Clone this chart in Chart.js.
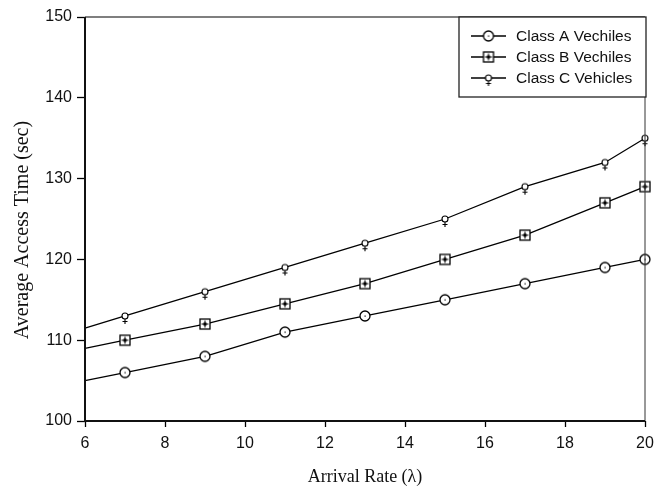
<!DOCTYPE html>
<html>
<head>
<meta charset="utf-8">
<script src="https://cdn.jsdelivr.net/npm/chart.js@4.4.1/dist/chart.umd.min.js"></script>
<style>
  html, body { margin: 0; padding: 0; background: #fff; }
  #wrap { width: 658px; height: 492px; }
</style>
</head>
<body>
<div id="wrap"><canvas id="accessChart"></canvas></div>
<script>
// arrival rate (lambda) values
var arrivalRate = [6, 7, 9, 11, 13, 15, 17, 19, 20];
var classA = [105, 106, 108, 111, 113, 115, 117, 119, 120];
var classB = [109, 110, 112, 114.5, 117, 120, 123, 127, 129];
var classC = [111.5, 113, 116, 119, 122, 125, 129, 132, 135];
var seriesNames = ['Class A Vechiles', 'Class B Vechiles', 'Class C Vehicles'];
var xTicks = [6, 8, 10, 12, 14, 16, 18, 20];
var yTicks = [100, 110, 120, 130, 140, 150];
var yTitle = 'Average Access Time (sec)';

function makeMarker(kind) {
    var c = document.createElement('canvas');
    var g = c.getContext('2d');
    if (kind === 'A') {
        c.width = 14; c.height = 14;
        g.fillStyle = '#fff';
        g.strokeStyle = '#000';
        g.lineWidth = 1.3;
        g.beginPath(); g.arc(7, 7, 5, 0, Math.PI * 2); g.fill(); g.stroke();
        g.fillStyle = '#000';
        g.fillRect(6.5, 6.5, 1.2, 1.2);
    } else if (kind === 'B') {
        c.width = 14; c.height = 14;
        g.fillStyle = '#fff';
        g.strokeStyle = '#000';
        g.lineWidth = 1.3;
        g.fillRect(2, 2, 10, 10);
        g.strokeRect(2, 2, 10, 10);
        g.fillStyle = '#000';
        g.fillRect(5.5, 5.5, 3, 3);
        g.fillRect(6.5, 3.5, 1, 7);
        g.fillRect(3.5, 6.5, 7, 1);
    } else {
        c.width = 12; c.height = 22;
        g.fillStyle = '#fff';
        g.strokeStyle = '#000';
        g.lineWidth = 1.1;
        g.beginPath(); g.arc(6, 11, 3, 0, Math.PI * 2); g.fill(); g.stroke();
        g.beginPath();
        g.moveTo(6, 14); g.lineTo(6, 19);
        g.moveTo(3.5, 16.5); g.lineTo(8.5, 16.5);
        g.stroke();
    }
    return c;
}

var markers = [makeMarker('A'), makeMarker('B'), makeMarker('C')];

function toPoints(ys) {
    return arrivalRate.map(function (x, i) { return { x: x, y: ys[i] }; });
}

function buildSet(label, ys, marker) {
    return {
        label: label,
        data: toPoints(ys),
        borderColor: '#000',
        borderWidth: 1.3,
        backgroundColor: '#fff',
        pointStyle: marker,
        // first point (lambda = 6) is drawn without a symbol
        pointRadius: ys.map(function (v, i) { return i === 0 ? 0 : 5; }),
        tension: 0,
        clip: false
    };
}

var framePlugin = {
    id: 'frame',
    afterDraw: function (chart) {
        var ctx = chart.ctx, a = chart.chartArea;
        ctx.save();
        ctx.strokeStyle = '#555';
        ctx.lineWidth = 1.5;
        ctx.beginPath();
        ctx.moveTo(a.left, a.top); ctx.lineTo(a.right, a.top);
        ctx.stroke();
        ctx.lineWidth = 1;
        ctx.strokeStyle = '#333';
        ctx.beginPath();
        ctx.moveTo(a.right, a.top); ctx.lineTo(a.right, a.bottom);
        ctx.stroke();
        ctx.strokeStyle = '#111';
        ctx.lineWidth = 2;
        ctx.beginPath();
        ctx.moveTo(a.left, a.top); ctx.lineTo(a.left, a.bottom + 1);
        ctx.moveTo(a.left - 1, a.bottom); ctx.lineTo(a.right, a.bottom);
        ctx.stroke();

        // y axis title, placed a bit below the plot centre as in the original
        ctx.save();
        ctx.translate(23, 230);
        ctx.rotate(-Math.PI / 2);
        ctx.font = '20px "Liberation Serif", "Times New Roman", serif';
        ctx.fillStyle = '#111';
        ctx.textAlign = 'center';
        ctx.textBaseline = 'middle';
        ctx.fillText(yTitle, 0, 0);
        ctx.restore();

        // legend box
        var bx = a.right - 186, by = a.top, bw = 187, bh = 80;
        ctx.fillStyle = '#fff';
        ctx.fillRect(bx, by, bw, bh);
        ctx.strokeStyle = '#222';
        ctx.lineWidth = 1.3;
        ctx.strokeRect(bx, by, bw, bh);
        ctx.font = '15.5px "Liberation Sans", Arial, sans-serif';
        ctx.textBaseline = 'middle';
        seriesNames.forEach(function (name, i) {
            var y = by + 19 + i * 21;
            ctx.strokeStyle = '#000';
            ctx.lineWidth = 1.3;
            ctx.beginPath();
            ctx.moveTo(bx + 12, y); ctx.lineTo(bx + 47, y);
            ctx.stroke();
            var m = markers[i];
            ctx.drawImage(m, bx + 29.5 - m.width / 2, y - m.height / 2);
            ctx.fillStyle = '#111';
            ctx.fillText(name, bx + 57, y + 1);
        });
        ctx.restore();
    }
};

var ctx = document.getElementById('accessChart');
var myChart = new Chart(ctx, {
    type: 'line',
    data: {
        datasets: [
            buildSet(seriesNames[0], classA, markers[0]),
            buildSet(seriesNames[1], classB, markers[1]),
            buildSet(seriesNames[2], classC, markers[2])
        ]
    },
    options: {
        responsive: true,
        maintainAspectRatio: false,
        animation: false,
        events: [],
        layout: { padding: { top: 17, right: 13, left: 0, bottom: 0 } },
        plugins: {
            legend: { display: false },
            tooltip: { enabled: false }
        },
        scales: {
            x: {
                type: 'linear',
                min: 6,
                max: 20,
                afterBuildTicks: function (s) { s.ticks = xTicks.map(function (v) { return { value: v }; }); },
                afterFit: function (s) {
                    s.height = 71;
                    s.paddingRight = 0;
                    s.paddingLeft = 0;
                },
                border: { display: false },
                grid: { drawOnChartArea: false, drawTicks: true, tickLength: 6, color: '#000', tickWidth: 1.3 },
                ticks: {
                    color: '#111',
                    padding: 7,
                    maxRotation: 0,
                    font: { family: '"Liberation Sans", Arial, sans-serif', size: 16 }
                },
                title: {
                    display: true,
                    text: 'Arrival Rate (\u03bb)',
                    color: '#111',
                    padding: { top: 0, bottom: 4 },
                    font: { family: '"Liberation Serif", "Times New Roman", serif', size: 18 }
                }
            },
            y: {
                min: 100,
                max: 150,
                afterBuildTicks: function (s) { s.ticks = yTicks.map(function (v) { return { value: v }; }); },
                afterFit: function (s) { s.width = 85; },
                border: { display: false },
                grid: { drawOnChartArea: false, drawTicks: true, tickLength: 8, color: '#000', tickWidth: 1.3 },
                ticks: {
                    color: '#111',
                    padding: 5,
                    font: { family: '"Liberation Sans", Arial, sans-serif', size: 16 }
                },
                title: { display: false }
            }
        }
    },
    plugins: [framePlugin]
});
</script>
</body>
</html>
